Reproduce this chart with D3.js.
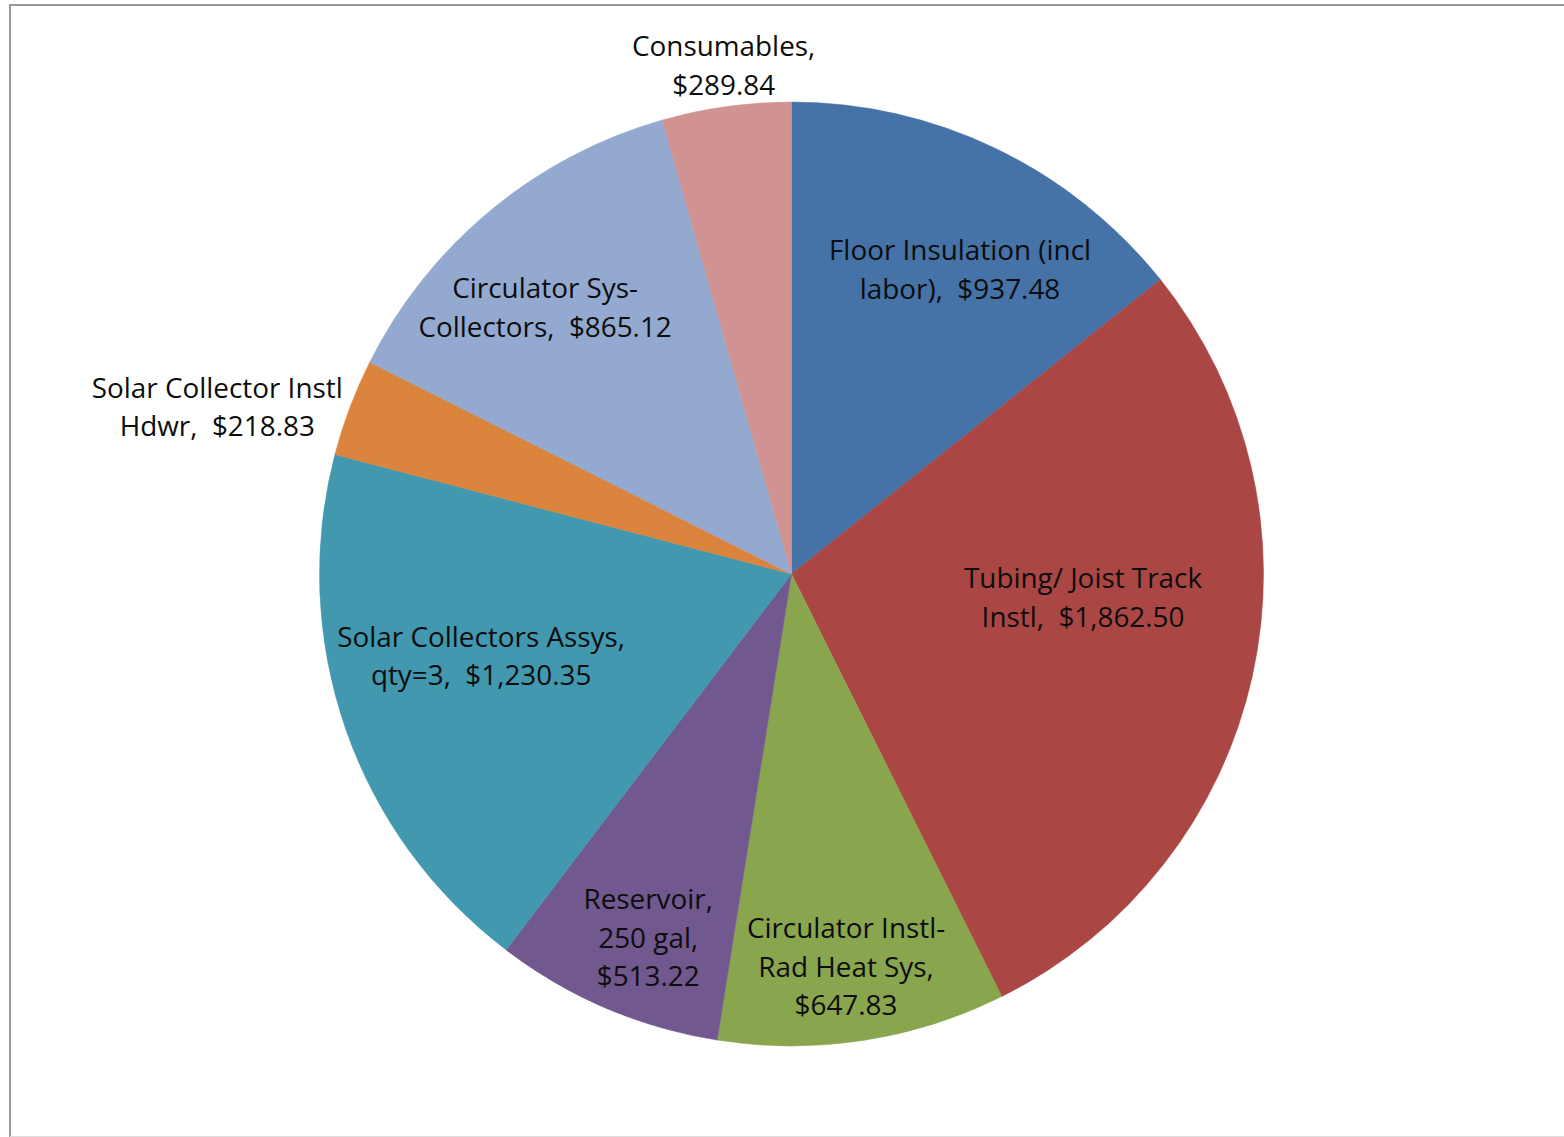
<!DOCTYPE html>
<html><head><meta charset="utf-8">
<script src="https://cdn.jsdelivr.net/npm/d3@7"></script>
<style>
html,body{margin:0;padding:0;background:#fff;}
svg{display:block;}
text{white-space:pre;}
</style></head>
<body>
<svg id="chart" width="1564" height="1137"></svg>
<script>
// ---- data ----
const categories = [
  "Floor Insulation (incl labor)",
  "Tubing/ Joist Track Instl",
  "Circulator Instl-Rad Heat Sys",
  "Reservoir, 250 gal",
  "Solar Collectors Assys, qty=3",
  "Solar Collector Instl Hdwr",
  "Circulator Sys-Collectors",
  "Consumables"
];
const values = [937.48, 1862.50, 647.83, 513.22, 1230.35, 218.83, 865.12, 289.84];
const labelLines = [
  ["Floor Insulation (incl", "labor),  $937.48"],
  ["Tubing/ Joist Track", "Instl,  $1,862.50"],
  ["Circulator Instl-", "Rad Heat Sys,", "$647.83"],
  ["Reservoir,", "250 gal,", "$513.22"],
  ["Solar Collectors Assys,", "qty=3,  $1,230.35"],
  ["Solar Collector Instl", "Hdwr,  $218.83"],
  ["Circulator Sys-", "Collectors,  $865.12"],
  ["Consumables,", "$289.84"]
];
const colors = ["#4572A7", "#AA4643", "#89A54E", "#71588F", "#4198AF", "#DB843D", "#93A9CF", "#D19392"];

// ---- layout (label placement: angle in degrees clockwise from 12 o'clock, distance from centre) ----
const labelAngle = [29.0, 94.7, 172.1, 201.5, 255.2, 286.2, 317.2, 352.4];
const labelDist  = [347.6, 292.5, 396.8, 391, 321, 598, 362.6, 513];

const W = 1564, H = 1137;
const cx = 791.5, cy = 574, R = 472;
const svg = d3.select("#chart");

// frame
svg.append("line").attr("x1", 10).attr("x2", W).attr("y1", 5).attr("y2", 5)
  .attr("stroke", "#999").attr("stroke-width", 2);
svg.append("line").attr("x1", 10).attr("x2", 10).attr("y1", 4).attr("y2", H)
  .attr("stroke", "#999").attr("stroke-width", 2);
svg.append("line").attr("x1", 10).attr("x2", W).attr("y1", H - 0.5).attr("y2", H - 0.5)
  .attr("stroke", "#ddd").attr("stroke-width", 1);

const pie = d3.pie().sort(null).value(d => d)(values);
const arc = d3.arc().innerRadius(0).outerRadius(R);
const g = svg.append("g").attr("transform", `translate(${cx},${cy})`);
g.selectAll("path").data(pie).join("path")
  .attr("d", arc)
  .attr("fill", (d, i) => colors[i])
  .attr("stroke", (d, i) => colors[i])
  .attr("stroke-width", 0.5);

// label font sizing to match reference width
const fontFam = "'Open Sans', 'Noto Sans', sans-serif";
const probe = svg.append("text").style("font-family", fontFam).style("font-size", "100px").text("Solar Collector Instl");
const w100 = probe.node().getComputedTextLength();
probe.remove();
const fs = 100 * 251 / w100;
const lh = 38.5;

const labels = g.selectAll("g.lbl").data(pie).join("g").attr("class", "lbl")
  .attr("transform", (d, i) => {
    const a = labelAngle[i] * Math.PI / 180;
    return `translate(${labelDist[i] * Math.sin(a)},${-labelDist[i] * Math.cos(a)})`;
  });
labels.each(function (d, i) {
  const lines = labelLines[i];
  const t = d3.select(this).append("text")
    .attr("text-anchor", "middle")
    .style("font-family", fontFam)
    .style("font-size", fs + "px")
    .attr("fill", "#0d0d0d");
  lines.forEach((ln, j) => {
    t.append("tspan").attr("x", 0)
      .attr("y", (j - (lines.length - 1) / 2) * lh)
      .attr("dy", "0.35em")
      .text(ln);
  });
});
</script>
</body></html>
